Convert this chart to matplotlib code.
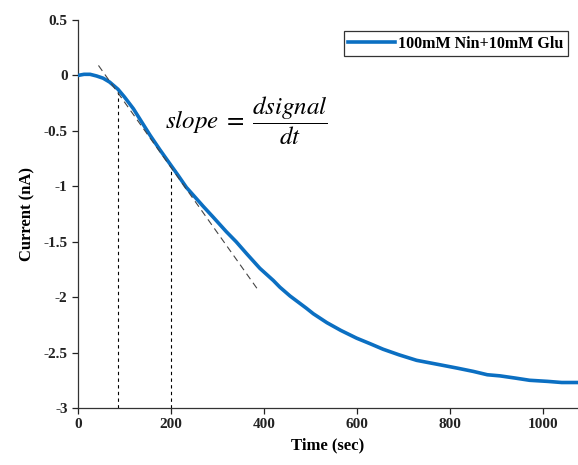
import matplotlib

matplotlib.use("Agg")
import matplotlib.pyplot as plt

# current trace (sec, nA)
time_s = [0, 13, 26, 40, 54, 68, 86, 100, 119, 137, 155, 176, 198, 215, 233,
          250, 269, 291, 319, 340, 363, 391, 420, 434, 456, 491, 506, 535,
          565, 599, 628, 656, 690, 728, 778, 815, 850, 880, 907, 940, 971,
          1010, 1040, 1075]
current_nA = [0.0, 0.01, 0.01, -0.005, -0.025, -0.06, -0.125, -0.195, -0.30,
              -0.42, -0.54, -0.67, -0.80, -0.90, -1.01, -1.09, -1.18, -1.28,
              -1.41, -1.50, -1.61, -1.74, -1.85, -1.91, -1.99, -2.10, -2.15,
              -2.23, -2.30, -2.37, -2.42, -2.47, -2.52, -2.57, -2.61, -2.64,
              -2.67, -2.70, -2.71, -2.73, -2.75, -2.76, -2.77, -2.77]

# tangent segment and the two sampling times
tangent_t = [44, 388]
tangent_i = [0.09, -1.94]
mark_t = [86, 201]
mark_i = [-0.11, -0.85]

plt.rcParams["font.family"] = ["Liberation Serif", "DejaVu Serif"]
plt.rcParams["mathtext.fontset"] = "stix"

fig = plt.figure(figsize=(5.78, 4.65), dpi=100)
ax = fig.add_axes([78 / 578, 57 / 465, 1 - 78 / 578, (408 - 20) / 465])

ax.plot(time_s, current_nA, color="#0b6fc2", lw=2.6,
        label="100mM Nin+10mM Glu", zorder=3)
ax.plot(tangent_t, tangent_i, color="#444444", lw=0.8, ls=(0, (6, 4)),
        zorder=4)
for t, i in zip(mark_t, mark_i):
    ax.plot([t, t], [-3, i], color="black", lw=0.8, ls=(0, (3, 3)), zorder=2)

ax.text(362, -0.405, r"$slope\;=\;\dfrac{dsignal}{dt}$", fontsize=18,
        ha="center", va="center")

ax.set_xlim(0, 1075)
ax.set_ylim(-3, 0.5)
ax.set_xticks([0, 200, 400, 600, 800, 1000])
ax.set_yticks([-3, -2.5, -2, -1.5, -1, -0.5, 0, 0.5])
ax.set_yticklabels(["-3", "-2.5", "-2", "-1.5", "-1", "-0.5", "0", "0.5"])
ax.tick_params(direction="out", length=4, width=0.9, labelsize=11,
               colors="#222222")
for lab in ax.get_xticklabels() + ax.get_yticklabels():
    lab.set_fontweight("bold")

for side in ("top", "right"):
    ax.spines[side].set_visible(False)
for side in ("left", "bottom"):
    ax.spines[side].set_color("#333333")
    ax.spines[side].set_linewidth(0.9)

ax.set_xlabel("Time (sec)", fontsize=12, fontweight="bold", labelpad=4)
ax.set_ylabel("Current (nA)", fontsize=12, fontweight="bold", labelpad=6)

leg = ax.legend(loc="upper right", bbox_to_anchor=(0.98, 0.972),
                fancybox=False, edgecolor="#333333", framealpha=1,
                prop={"weight": "bold", "size": 11.5}, handlelength=2.9,
                borderpad=0.3, handletextpad=0.2, borderaxespad=0)
leg.get_frame().set_linewidth(0.9)

fig.savefig("out.png", dpi=100)
